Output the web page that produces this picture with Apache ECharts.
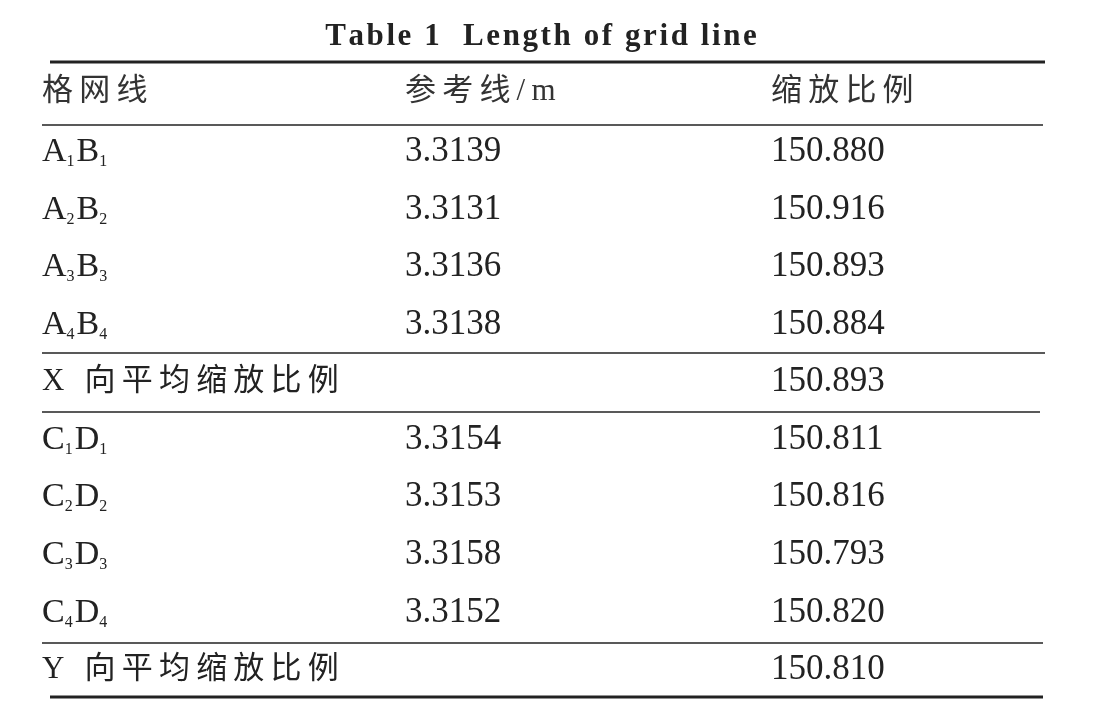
<!DOCTYPE html>
<html><head><meta charset="utf-8">
<script src="https://cdn.jsdelivr.net/npm/echarts@6/dist/echarts.min.js"></script>
<style>html,body{margin:0;background:#fff}#main{width:1116px;height:710px}</style>
</head><body><div id="main"></div>
<script>
var title = 'Table 1  Length of grid line';
var headers = ['格网线', '参考线/m', '缩放比例'];
// [letter1, letter2, index] ; a plain string means summary row
var rowNames = [['A','B','1'],['A','B','2'],['A','B','3'],['A','B','4'],'X 向平均缩放比例',
                ['C','D','1'],['C','D','2'],['C','D','3'],['C','D','4'],'Y 向平均缩放比例'];
var refLen = ['3.3139','3.3131','3.3136','3.3138','','3.3154','3.3153','3.3158','3.3152',''];
var scale = ['150.880','150.916','150.893','150.884','150.893','150.811','150.816','150.793','150.820','150.810'];
var rowY = [152,210,267,325,382,440,497,555,613,670];
var colX = [42,405,771];
var rules = [[62,50,1045,3],[125,42,1043,1.5],[353,42,1045,1.5],[412,42,1040,1.5],[643,42,1043,1.5],[697,50,1043,3]];

var serif = '"Liberation Serif","DejaVu Serif",serif';
var cjk = '"Liberation Serif","Noto Sans CJK SC",serif';
var g = [];
function txt(x, y, t, extra) {
  var st = Object.assign({x:x, y:y, text:t, fill:'#222', font:'31px '+cjk, textVerticalAlign:'middle'}, extra||{});
  g.push({type:'text', style:st});
}
txt(541, 37, title.split('').join('\u200A'), {textAlign:'center', font:'bold 31px '+serif});
headers.forEach(function(h, i){ txt(colX[i], 92, h.split('').join('\u2009'), {fill:'#333'}); });
rules.forEach(function(r){
  g.push({type:'line', shape:{x1:r[1], y1:r[0], x2:r[2], y2:r[0]}, style:{stroke:'#222', lineWidth:r[3]}});
});
rowNames.forEach(function(n, i){
  var y = rowY[i];
  if (typeof n === 'string') {
    txt(colX[0], y, n.split('').join('\u2009'));
  } else {
    g.push({type:'text', style:{x:colX[0], y:y, textVerticalAlign:'middle',
      text:'{n|'+n[0]+'}{s|'+n[2]+'}{n|'+n[1]+'}{s|'+n[2]+'}',
      rich:{n:{fontSize:34, fontFamily:serif, fill:'#222'}, s:{fontSize:16, fontFamily:serif, fill:'#222', padding:[20,2,0,0]}}}});
  }
  if (refLen[i]) txt(colX[1], y, refLen[i], {font:'35px '+serif});
  txt(colX[2], y, scale[i], {font:'35px '+serif});
});

var chart = echarts.init(document.getElementById('main'));
chart.setOption({backgroundColor:'#fff', graphic:{elements:g}});
window.onresize = function(){ chart.resize(); };
</script></body></html>
